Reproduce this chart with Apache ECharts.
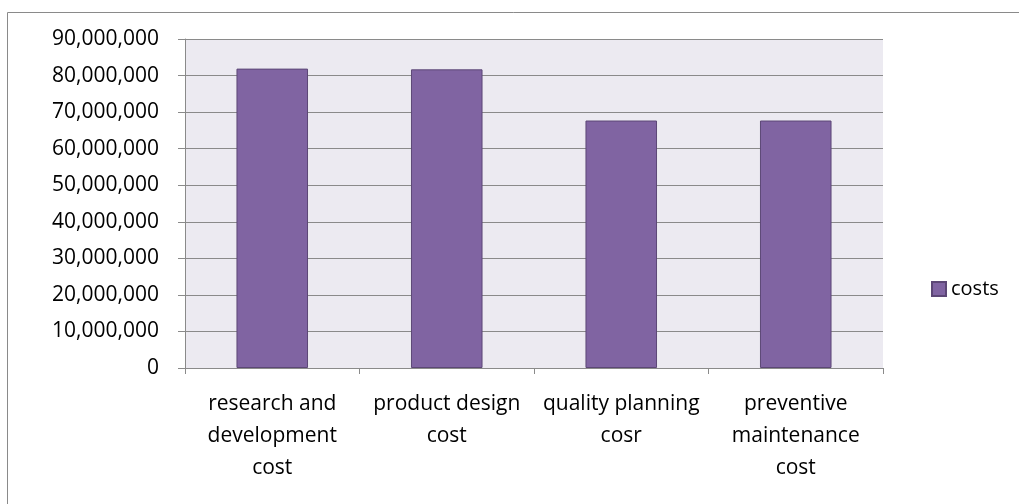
<!DOCTYPE html>
<html><head><meta charset="utf-8">
<script src="https://cdn.jsdelivr.net/npm/echarts@6/dist/echarts.min.js"></script>
<style>html,body{margin:0;padding:0;background:#fff}#c{width:1019px;height:504px}</style>
</head><body><div id="c"></div>
<script>
const categories = ["research and\ndevelopment\ncost", "product design\ncost", "quality planning\ncosr", "preventive\nmaintenance\ncost"];
const costs = [81900000, 81700000, 67700000, 67700000];
const seriesName = "costs";
const FONT = "'Open Sans', Lato, sans-serif";
const chart = echarts.init(document.getElementById('c'));
chart.setOption({
  animation: false,
  backgroundColor: '#fff',
  graphic: [{type:'rect', shape:{x:7.5,y:12.5,width:1030,height:520}, style:{fill:'none', stroke:'#8a8a8a', lineWidth:1}, z:-1}],
  grid: {left:185, right:136, top:39, bottom:136, show:true, backgroundColor:'#ECEAF1', borderWidth:0},
  legend: {data:[seriesName], orient:'vertical', left:926, top:274, itemWidth:14, itemHeight:14, itemGap:5,
    icon:'rect',
    textStyle:{fontFamily:FONT, fontSize:20, color:'#000'}},
  xAxis: {type:'category', data:categories,
    axisLine:{lineStyle:{color:'#8a8a8a', width:1}},
    axisTick:{show:true, length:6, lineStyle:{color:'#8a8a8a'}},
    axisLabel:{fontFamily:FONT, fontSize:21, color:'#000', lineHeight:32, margin:20, interval:0}},
  yAxis: {type:'value', min:0, max:90000000, interval:10000000,
    axisLine:{show:true, lineStyle:{color:'#8a8a8a'}},
    axisTick:{show:true, length:7, lineStyle:{color:'#8a8a8a'}},
    splitLine:{lineStyle:{color:'#8a8a8a', width:1}},
    axisLabel:{fontFamily:FONT, fontSize:21, color:'#000', margin:26,
      formatter: v => v.toLocaleString('en-US')}},
  series: [{name:seriesName, type:'bar', data:costs, barWidth:'41%',
    itemStyle:{color:'#8064A2', borderColor:'#5C4776', borderWidth:1}}]
});
</script></body></html>
